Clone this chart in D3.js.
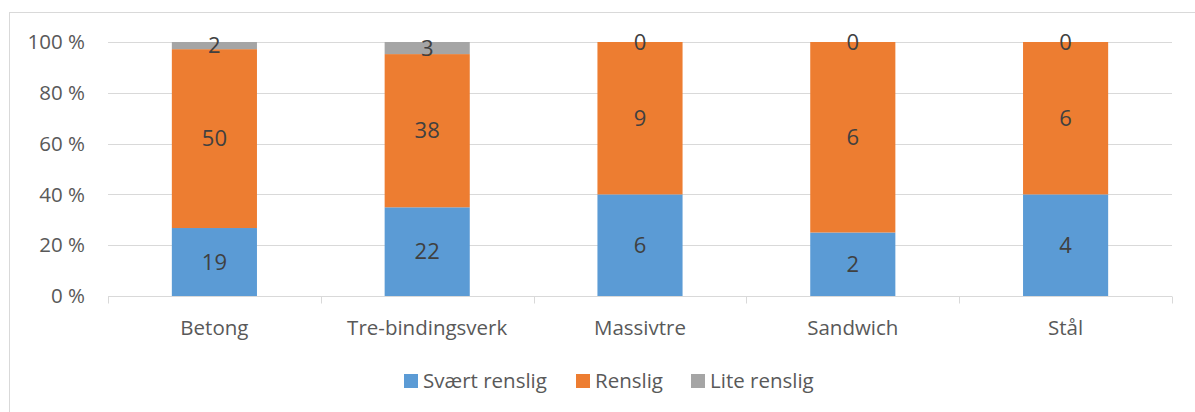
<!DOCTYPE html>
<html lang="en">
<head>
  <meta charset="UTF-8" />
  <title>Renslighet per konstruksjon</title>
  <script src="https://d3js.org/d3.v7.min.js"></script>
  <style>
    body { margin: 0; background: #fff; }
    text { font-family: "Open Sans", sans-serif; }
  </style>
</head>
<body>
  <div id="chart"></div>
  <script>
    const categories = ["Betong", "Tre-bindingsverk", "Massivtre", "Sandwich", "Stål"];
    const seriesNames = ["Svært renslig", "Renslig", "Lite renslig"];
    const sveartRenslig = [19, 22, 6, 2, 4];
    const renslig = [50, 38, 9, 6, 6];
    const liteRenslig = [2, 3, 0, 0, 0];
    const colors = ["#5b9bd5", "#ed7d31", "#a5a5a5"];
    const yTicks = [0, 0.2, 0.4, 0.6, 0.8, 1];

    const width = 1195, height = 412;
    const margin = { left: 108, right: 23, top: 42, bottom: 116 };

    const svg = d3.select("#chart").append("svg").attr("width", width).attr("height", height);

    // chart border
    svg.append("rect").attr("x", 9.5).attr("y", 12.5).attr("width", width + 10).attr("height", height + 10)
      .attr("fill", "none").attr("stroke", "#d9d9d9").attr("stroke-width", 1);

    const x = d3.scaleBand().domain(categories).range([margin.left, width - margin.right]);
    const y = d3.scaleLinear().domain([0, 1]).range([height - margin.bottom, margin.top]);

    // grid
    svg.append("g").selectAll("line").data(yTicks.slice(1)).enter().append("line")
      .attr("x1", margin.left).attr("x2", width - margin.right)
      .attr("y1", d => Math.round(y(d)) + 0.5).attr("y2", d => Math.round(y(d)) + 0.5)
      .attr("stroke", "#d9d9d9").attr("stroke-width", 1);

    const rows = categories.map((c, i) => ({ cat: c, "Svært renslig": sveartRenslig[i], "Renslig": renslig[i], "Lite renslig": liteRenslig[i] }));
    const stacked = d3.stack().keys(seriesNames).offset(d3.stackOffsetExpand)(rows);

    const barW = x.bandwidth() * 0.4;
    const layers = svg.append("g").selectAll("g").data(stacked).enter().append("g")
      .attr("fill", (d, i) => colors[i]);
    layers.selectAll("rect").data(d => d).enter().append("rect")
      .attr("x", d => x(d.data.cat) + (x.bandwidth() - barW) / 2)
      .attr("width", barW)
      .attr("y", d => y(d[1]))
      .attr("height", d => y(d[0]) - y(d[1]));

    // axis line + category tick marks
    const base = Math.round(y(0)) + 0.5;
    svg.append("line").attr("x1", margin.left).attr("x2", width - margin.right)
      .attr("y1", base).attr("y2", base).attr("stroke", "#d9d9d9");
    const bounds = categories.map(c => x(c)).concat([x.range()[1]]);
    svg.append("g").selectAll("line").data(bounds).enter().append("line")
      .attr("x1", d => Math.round(d) + 0.5).attr("x2", d => Math.round(d) + 0.5)
      .attr("y1", base).attr("y2", base + 7).attr("stroke", "#d9d9d9");

    // y tick labels
    svg.append("g").selectAll("text").data(yTicks).enter().append("text")
      .attr("x", 85).attr("y", d => y(d)).attr("dy", "0.35em").attr("text-anchor", "end")
      .attr("font-size", 20.5).attr("fill", "#595959")
      .text(d => Math.round(d * 100) + " %");

    // category labels
    svg.append("g").selectAll("text").data(categories).enter().append("text")
      .attr("x", d => x(d) + x.bandwidth() / 2).attr("y", 328).attr("dy", "0.35em")
      .attr("text-anchor", "middle").attr("font-size", 20.5).attr("fill", "#595959")
      .text(d => d);

    // data labels
    layers.selectAll("text").data((d, i) => d.map(p => ({ p, key: seriesNames[i] }))).enter().append("text")
      .attr("x", d => x(d.p.data.cat) + x.bandwidth() / 2)
      .attr("y", d => y((d.p[0] + d.p[1]) / 2)).attr("dy", "0.35em")
      .attr("text-anchor", "middle").attr("font-size", 22).attr("fill", "#404040")
      .text(d => d.p.data[d.key]);

    // legend
    const legendX = [404, 576, 691];
    const legend = svg.append("g").selectAll("g").data(seriesNames).enter().append("g")
      .attr("transform", (d, i) => `translate(${legendX[i]},381)`);
    legend.append("rect").attr("x", 0).attr("y", -7).attr("width", 14).attr("height", 14)
      .attr("fill", (d, i) => colors[i]);
    legend.append("text").attr("x", 19).attr("y", 0).attr("dy", "0.35em")
      .attr("font-size", 20.5).attr("fill", "#595959").text(d => d);
  </script>
</body>
</html>
